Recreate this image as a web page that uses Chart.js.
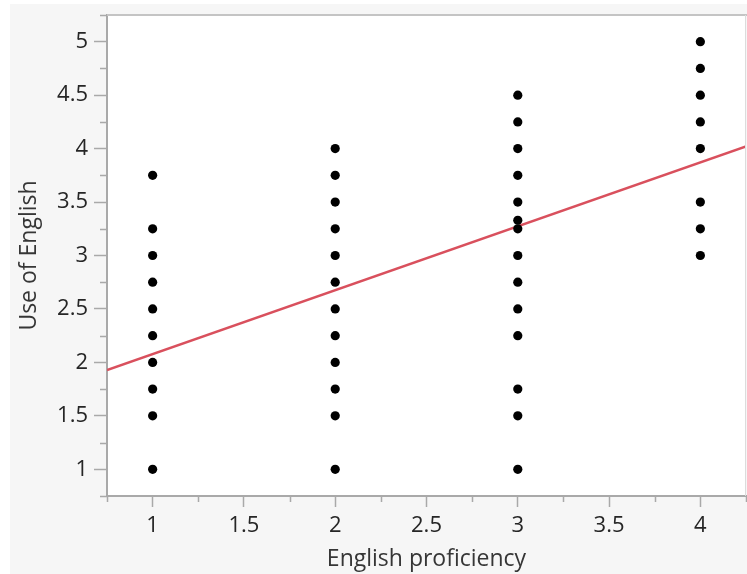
<!DOCTYPE html>
<html>
<head>
<meta charset="utf-8">
<script src="https://cdn.jsdelivr.net/npm/chart.js@4/dist/chart.umd.min.js"></script>
<style>
  html, body { margin: 0; padding: 0; background: #ffffff; overflow: hidden; }
  canvas { display: block; }
</style>
</head>
<body>
<canvas id="chart" width="747" height="574" style="width:747px;height:574px"></canvas>
<script>
// Proficiency levels on the x axis
const proficiencyLevels = [1, 2, 3, 4];

// "Use of English" scores observed at each proficiency level
const useAtLevel1 = [1, 1.5, 1.75, 2, 2.25, 2.5, 2.75, 3, 3.25, 3.75];
const useAtLevel2 = [1, 1.5, 1.75, 2, 2.25, 2.5, 2.75, 3, 3.25, 3.5, 3.75, 4];
const useAtLevel3 = [1, 1.5, 1.75, 2.25, 2.5, 2.75, 3, 3.25, 3.33, 3.5, 3.75, 4, 4.25, 4.5];
const useAtLevel4 = [3, 3.25, 3.5, 4, 4.25, 4.5, 4.75, 5];

// Linear fit: use = intercept + slope * proficiency
const fitIntercept = 1.48;
const fitSlope = 0.598;

// Axis ranges and labelled ticks
const xRange = [0.75, 4.25];
const yRange = [0.75, 5.25];
const xTickLabels = [1, 1.5, 2, 2.5, 3, 3.5, 4];
const yTickLabels = [1, 1.5, 2, 2.5, 3, 3.5, 4, 4.5, 5];
const xMinorTicks = [0.75, 1.25, 1.75, 2.25, 2.75, 3.25, 3.75, 4.25];
const yMinorTicks = [0.75, 1.25, 1.75, 2.25, 2.75, 3.25, 3.75, 4.25, 4.75, 5.25];

const groups = [useAtLevel1, useAtLevel2, useAtLevel3, useAtLevel4];
const scatterPoints = [];
groups.forEach((vals, i) => {
  vals.forEach(v => scatterPoints.push({ x: proficiencyLevels[i], y: v }));
});
const fitLine = xRange.map(x => ({ x: x, y: fitIntercept + fitSlope * x }));

const AXIS_GREY = '#a9a9a9';
const TEXT = '#262626';
const FONT = '"Open Sans", "Noto Sans", sans-serif';

// Backdrop panel, white plot area and frame
const frame = {
  id: 'frame',
  beforeDraw(chart) {
    const { ctx, chartArea: a } = chart;
    ctx.save();
    ctx.fillStyle = '#ffffff';
    ctx.fillRect(0, 0, chart.width, chart.height);
    ctx.fillStyle = '#f6f6f6';
    ctx.fillRect(10, 4, chart.width - 10, chart.height - 4);
    ctx.fillStyle = '#ffffff';
    ctx.fillRect(a.left, a.top, a.right - a.left, a.bottom - a.top);
    ctx.restore();
  },
  afterDraw(chart) {
    const { ctx, chartArea: a } = chart;
    const xs = chart.scales.x, ys = chart.scales.y;
    ctx.save();
    // top and right frame lines
    ctx.strokeStyle = '#c4c4c4';
    ctx.lineWidth = 2;
    ctx.beginPath();
    ctx.moveTo(a.left, a.top);
    ctx.lineTo(chart.width, a.top);
    ctx.stroke();
    ctx.strokeStyle = '#dcdcdc';
    ctx.lineWidth = 1;
    ctx.beginPath();
    ctx.moveTo(a.right - 0.5, a.top);
    ctx.lineTo(a.right - 0.5, a.bottom);
    ctx.stroke();
    // minor ticks
    ctx.strokeStyle = AXIS_GREY;
    ctx.lineWidth = 1.5;
    ctx.beginPath();
    xMinorTicks.forEach(v => {
      const px = Math.round(xs.getPixelForValue(v)) + 0.5;
      ctx.moveTo(px, a.bottom);
      ctx.lineTo(px, a.bottom + 6);
    });
    yMinorTicks.forEach(v => {
      const py = Math.round(ys.getPixelForValue(v)) + 0.5;
      ctx.moveTo(a.left, py);
      ctx.lineTo(a.left - 7, py);
    });
    ctx.stroke();
    ctx.restore();
  }
};

// Fixed axis box sizes, no extra room reserved for edge labels
function fitBox(size, horizontal) {
  return s => {
    if (horizontal) s.height = size; else s.width = size;
    s.paddingTop = 0; s.paddingBottom = 0; s.paddingLeft = 0; s.paddingRight = 0;
  };
}

new Chart(document.getElementById('chart'), {
  type: 'scatter',
  data: {
    datasets: [
      {
        type: 'line',
        data: fitLine,
        borderColor: '#d9505d',
        borderWidth: 2.5,
        pointRadius: 0,
        fill: false,
        order: 2
      },
      {
        data: scatterPoints,
        backgroundColor: '#000000',
        borderColor: '#000000',
        borderWidth: 0,
        pointRadius: 4.6,
        order: 1
      }
    ]
  },
  options: {
    responsive: false,
    devicePixelRatio: 1,
    animation: false,
    events: [],
    layout: { autoPadding: false, padding: { top: 15, right: 1, left: 0, bottom: 0 } },
    plugins: { legend: { display: false }, tooltip: { enabled: false } },
    scales: {
      x: {
        type: 'linear',
        min: xRange[0],
        max: xRange[1],
        afterBuildTicks: s => { s.ticks = xTickLabels.map(v => ({ value: v })); },
        afterFit: fitBox(78, true),
        border: { display: true, color: AXIS_GREY, width: 2 },
        grid: { drawOnChartArea: false, drawTicks: true, tickLength: 11, tickColor: AXIS_GREY, tickWidth: 1.5 },
        ticks: { color: TEXT, font: { family: FONT, size: 22 }, padding: 6, maxRotation: 0, autoSkip: false,
                 callback: v => String(v) },
        title: { display: true, text: 'English proficiency', color: '#363636',
                 font: { family: FONT, size: 23 }, padding: { bottom: 1, top: 0 } }
      },
      y: {
        type: 'linear',
        min: yRange[0],
        max: yRange[1],
        afterBuildTicks: s => { s.ticks = yTickLabels.map(v => ({ value: v })); },
        afterFit: fitBox(107, false),
        border: { display: true, color: AXIS_GREY, width: 2 },
        grid: { drawOnChartArea: false, drawTicks: true, tickLength: 13, tickColor: AXIS_GREY, tickWidth: 1.5 },
        ticks: { color: TEXT, font: { family: FONT, size: 22 }, padding: 6, autoSkip: false,
                 callback: v => String(v) },
        title: { display: true, text: 'Use of English', color: '#363636',
                 font: { family: FONT, size: 23 }, padding: { top: 16, bottom: 0 } }
      }
    }
  },
  plugins: [frame]
});
</script>
</body>
</html>
